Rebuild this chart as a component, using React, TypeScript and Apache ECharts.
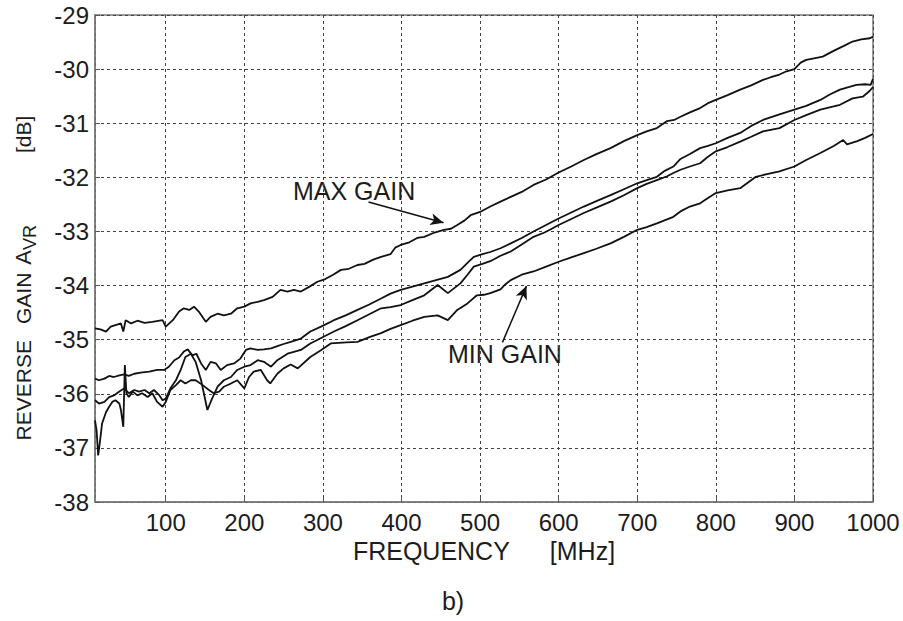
import React, { useEffect, useRef } from "react";
import * as echarts from "echarts";

// ---- Data (frequency in MHz, reverse gain in dB) ----
const maxGainFreq = [10,17,24,30,36,43,46,49,56,64,73,83,96,100,109,117,123,130,136,142,151,157,166,174,183,191,200,208,217,225,236,246,255,263,272,283,293,303,313,323,333,344,353,364,374,386,392,399,410,420,429,442,454,463,471,480,488,500,513,526,539,553,568,584,600,616,632,648,666,683,700,712,725,738,747,755,767,780,790,800,815,831,845,860,870,881,890,900,908,915,925,936,945,953,963,974,985,996,1000];
const maxGainDb = [-34.79,-34.81,-34.85,-34.76,-34.73,-34.70,-34.85,-34.64,-34.70,-34.65,-34.69,-34.67,-34.64,-34.76,-34.64,-34.48,-34.42,-34.45,-34.39,-34.48,-34.67,-34.58,-34.52,-34.55,-34.52,-34.42,-34.39,-34.33,-34.30,-34.27,-34.21,-34.08,-34.11,-34.08,-34.11,-34.02,-33.93,-33.88,-33.80,-33.71,-33.69,-33.62,-33.60,-33.52,-33.47,-33.42,-33.30,-33.25,-33.20,-33.12,-33.10,-33.02,-32.97,-32.95,-32.88,-32.80,-32.70,-32.64,-32.54,-32.45,-32.36,-32.27,-32.14,-32.04,-31.91,-31.80,-31.68,-31.57,-31.46,-31.33,-31.22,-31.15,-31.09,-30.96,-30.94,-30.88,-30.80,-30.72,-30.63,-30.57,-30.48,-30.38,-30.30,-30.20,-30.15,-30.10,-30.04,-30.00,-29.88,-29.83,-29.80,-29.77,-29.70,-29.64,-29.57,-29.49,-29.45,-29.43,-29.40];

const gain2Freq = [10,15,22,28,34,41,47,53,60,68,79,89,98,104,111,117,123,128,134,139,145,151,157,164,170,178,187,195,202,208,217,225,234,242,250,259,272,284,299,314,329,344,359,374,386,399,414,429,444,459,475,484,492,503,513,526,539,553,568,584,600,616,632,648,666,683,700,712,725,735,746,755,767,780,790,800,815,831,845,860,880,900,915,933,945,958,970,979,990,997,1000];
const gain2Db = [-35.72,-35.75,-35.72,-35.67,-35.69,-35.66,-35.64,-35.67,-35.63,-35.61,-35.59,-35.56,-35.56,-35.50,-35.38,-35.33,-35.22,-35.18,-35.29,-35.26,-35.44,-35.56,-35.41,-35.44,-35.56,-35.47,-35.44,-35.35,-35.19,-35.16,-35.19,-35.18,-35.16,-35.12,-35.08,-35.04,-34.98,-34.85,-34.75,-34.64,-34.55,-34.45,-34.35,-34.24,-34.15,-34.08,-34.02,-33.96,-33.90,-33.84,-33.71,-33.58,-33.47,-33.42,-33.38,-33.31,-33.22,-33.12,-33.00,-32.88,-32.76,-32.65,-32.54,-32.44,-32.33,-32.22,-32.11,-32.05,-31.99,-31.88,-31.80,-31.66,-31.57,-31.46,-31.42,-31.37,-31.27,-31.18,-31.05,-30.94,-30.84,-30.75,-30.68,-30.57,-30.47,-30.38,-30.33,-30.29,-30.28,-30.29,-30.18];

const gain3Freq = [10,15,22,28,34,41,47,53,60,66,73,79,85,92,96,100,106,113,119,125,132,138,145,153,159,166,174,183,191,200,208,217,225,234,242,255,272,284,299,314,329,344,359,374,386,399,414,429,446,459,475,484,492,503,513,526,539,553,568,582,590,600,616,632,648,666,683,700,712,725,738,746,755,767,780,790,800,815,831,845,860,881,900,915,933,950,958,974,987,996,1000];
const gain3Db = [-36.12,-36.18,-36.15,-36.06,-36.03,-35.96,-35.90,-35.99,-35.93,-35.96,-35.93,-35.99,-35.93,-36.03,-36.12,-36.09,-35.90,-35.75,-35.56,-35.32,-35.26,-35.41,-35.75,-36.30,-36.09,-35.87,-35.75,-35.69,-35.56,-35.50,-35.47,-35.38,-35.41,-35.50,-35.38,-35.26,-35.19,-35.07,-34.96,-34.85,-34.75,-34.64,-34.53,-34.42,-34.40,-34.36,-34.27,-34.18,-33.99,-34.14,-33.96,-33.80,-33.65,-33.60,-33.55,-33.45,-33.37,-33.24,-33.10,-33.02,-32.96,-32.88,-32.77,-32.66,-32.56,-32.45,-32.33,-32.20,-32.12,-32.05,-31.98,-31.92,-31.86,-31.80,-31.74,-31.62,-31.52,-31.44,-31.34,-31.25,-31.15,-31.09,-30.94,-30.85,-30.75,-30.69,-30.66,-30.54,-30.51,-30.40,-30.33];

const minGainFreq = [10,12,14,16,19,24,28,32,36,41,43,46,48,50,53,58,64,70,77,83,89,96,100,106,113,119,125,132,138,147,155,161,168,174,183,191,200,206,212,221,229,233,242,250,259,268,284,297,310,330,344,360,374,386,399,414,429,446,459,471,484,496,505,513,526,532,539,553,568,584,600,616,632,648,666,683,700,712,725,746,755,767,780,790,800,815,831,851,865,881,900,915,933,950,962,967,980,990,1000];
const minGainDb = [-36.49,-36.67,-37.14,-36.92,-36.55,-36.34,-36.24,-36.15,-36.12,-36.18,-36.30,-36.61,-35.47,-35.99,-36.06,-35.96,-36.03,-35.99,-36.06,-35.99,-36.15,-36.24,-36.15,-35.93,-35.84,-35.75,-35.81,-35.75,-35.75,-35.84,-35.93,-35.99,-35.96,-35.87,-35.81,-35.75,-35.90,-35.69,-35.59,-35.56,-35.75,-35.81,-35.63,-35.53,-35.46,-35.53,-35.32,-35.20,-35.07,-35.05,-35.04,-34.95,-34.88,-34.80,-34.73,-34.65,-34.58,-34.55,-34.64,-34.45,-34.33,-34.18,-34.17,-34.14,-34.07,-33.98,-33.90,-33.80,-33.74,-33.65,-33.56,-33.48,-33.40,-33.32,-33.22,-33.10,-32.97,-32.92,-32.85,-32.73,-32.63,-32.54,-32.48,-32.38,-32.29,-32.24,-32.20,-31.99,-31.94,-31.89,-31.80,-31.68,-31.55,-31.42,-31.31,-31.39,-31.33,-31.27,-31.20];

// Annotation arrows (data coordinates: [MHz, dB])
const maxArrow = [[358, -32.455], [453.5, -32.84]];
const minArrow = [[528.5, -35.05], [559, -34.01]];

const FONT = "'Liberation Sans', Arial, Helvetica, sans-serif";
const INK = "#111";
const TXT = "#1c1c1c";

const pairs = (f: number[], v: number[]) => f.map((x, i) => [x, v[i]]);

export default function App() {
  const ref = useRef<HTMLDivElement>(null);

  useEffect(() => {
    document.body.style.margin = "0";
    if (!ref.current) return;
    const chart = echarts.init(ref.current, undefined, { renderer: "svg" });

    const lineSeries = (name: string, data: number[][], extra: any = {}) => ({
      type: "line",
      name,
      data,
      showSymbol: false,
      symbol: "none",
      smooth: false,
      lineStyle: { color: INK, width: 1.8 },
      z: 3,
      ...extra,
    });

    chart.setOption({
      animation: false,
      backgroundColor: "#ffffff",
      textStyle: { fontFamily: FONT },
      grid: {
        left: 95,
        right: 30,
        top: 15,
        bottom: 119,
        show: true,
        borderColor: "#7a7a7a",
        borderWidth: 1.5,
        backgroundColor: "transparent",
      },
      xAxis: {
        type: "value",
        min: 10,
        max: 1000,
        splitNumber: 10,
        axisLine: { show: true, lineStyle: { color: "#7a7a7a", width: 1.5 } },
        axisTick: { show: true, inside: true, length: 5, lineStyle: { color: "#555" } },
        axisLabel: {
          color: TXT,
          fontSize: 24,
          fontFamily: FONT,
          margin: 8,
          showMinLabel: false,
          formatter: (v: number) => (v === 10 ? "" : String(v)),
        },
        splitLine: { show: true, lineStyle: { color: "#444", type: [3, 3], width: 1 } },
        name: "{a|FREQUENCY}{b|[MHz]}",
        nameLocation: "middle",
        nameGap: 29,
        nameTextStyle: {
          rich: {
            a: { fontSize: 25, color: TXT, fontFamily: FONT },
            b: { fontSize: 25, color: TXT, fontFamily: FONT, padding: [0, 0, 0, 40] },
          },
        },
      },
      yAxis: {
        type: "value",
        min: -38,
        max: -29,
        interval: 1,
        axisLine: { show: true, lineStyle: { color: "#7a7a7a", width: 1.5 } },
        axisTick: { show: true, inside: true, length: 5, lineStyle: { color: "#555" } },
        axisLabel: { color: TXT, fontSize: 24, fontFamily: FONT, margin: 6 },
        splitLine: { show: true, lineStyle: { color: "#444", type: [3, 3], width: 1 } },
      },
      series: [
        lineSeries("MAX GAIN", pairs(maxGainFreq, maxGainDb), {
          markLine: {
            silent: true,
            symbol: ["none", "arrow"],
            symbolSize: [9, 13],
            lineStyle: { color: INK, width: 1.5, type: "solid" },
            label: { show: false },
            data: [
              [{ coord: maxArrow[0] }, { coord: maxArrow[1] }],
              [{ coord: minArrow[0] }, { coord: minArrow[1] }],
            ],
          },
        }),
        lineSeries("GAIN 2", pairs(gain2Freq, gain2Db)),
        lineSeries("GAIN 3", pairs(gain3Freq, gain3Db)),
        lineSeries("MIN GAIN", pairs(minGainFreq, minGainDb)),
      ],
      graphic: [
        {
          type: "text",
          x: 23,
          y: 278,
          rotation: Math.PI / 2,
          style: {
            text: "{t|REVERSE}{g|GAIN}{a|A}{s|VR}{d|[dB]}",
            align: "center",
            verticalAlign: "middle",
            rich: {
              t: { fontSize: 21, fill: TXT, fontFamily: FONT, lineHeight: 32, verticalAlign: "middle" },
              g: { fontSize: 21, fill: TXT, fontFamily: FONT, lineHeight: 32, verticalAlign: "middle", padding: [0, 0, 0, 16] },
              a: { fontSize: 22, fill: TXT, fontFamily: FONT, lineHeight: 32, verticalAlign: "middle", padding: [0, 0, 0, 8] },
              s: { fontSize: 18, fill: TXT, fontFamily: FONT, lineHeight: 32, verticalAlign: "bottom" },
              d: { fontSize: 21, fill: TXT, fontFamily: FONT, lineHeight: 32, verticalAlign: "middle", padding: [0, 0, 0, 72] },
            },
          },
        },
        {
          type: "text",
          x: 293,
          y: 191,
          style: { text: "MAX GAIN", fontSize: 25, fill: TXT, fontFamily: FONT, align: "left", verticalAlign: "middle" },
        },
        {
          type: "text",
          x: 448,
          y: 354,
          style: { text: "MIN GAIN", fontSize: 25, fill: TXT, fontFamily: FONT, align: "left", verticalAlign: "middle" },
        },
        {
          type: "text",
          x: 453,
          y: 601,
          style: { text: "b)", fontSize: 25, fill: TXT, fontFamily: FONT, align: "center", verticalAlign: "middle" },
        },
      ],
    });

    return () => chart.dispose();
  }, []);

  return <div ref={ref} style={{ width: 903, height: 621 }} />;
}
